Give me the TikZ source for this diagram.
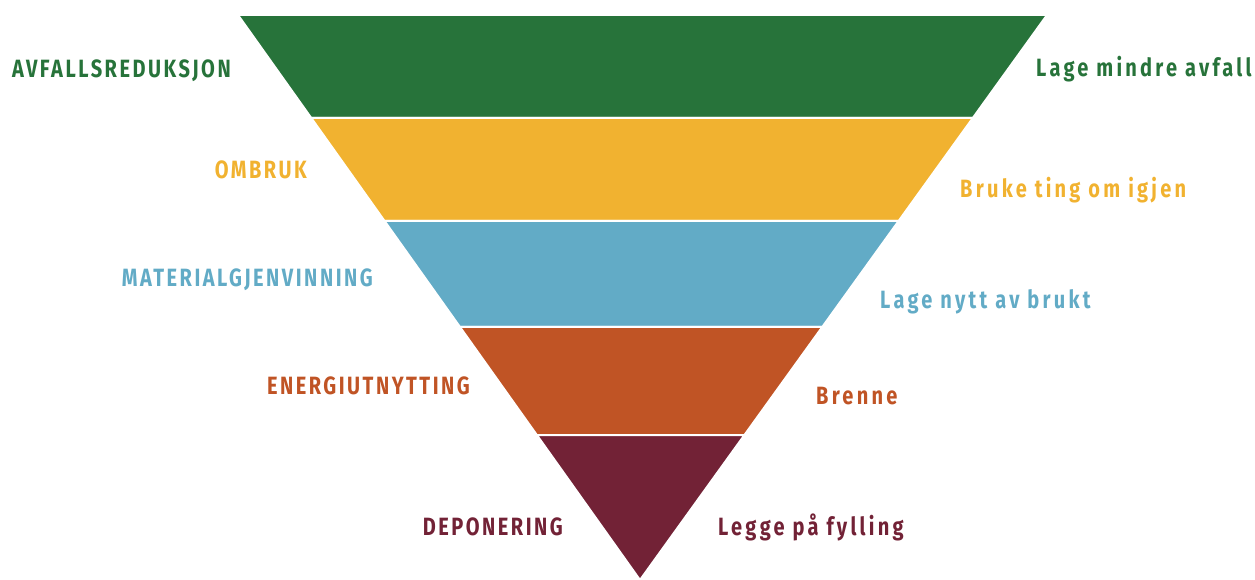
\documentclass[tikz,border=0pt]{standalone}
\usepackage{fontspec}
\usepackage{xcolor}
\usetikzlibrary{calc,positioning}
\newfontfamily\capfont[FakeStretch=0.8,LetterSpace=10]{Fira Sans}
\newfontfamily\txtfont[FakeStretch=0.8,LetterSpace=13]{Fira Sans}

\definecolor{cgreen}{HTML}{27733A}
\definecolor{cyellow}{HTML}{F1B230}
\definecolor{cblue}{HTML}{62ABC6}
\definecolor{corange}{HTML}{C05425}
\definecolor{cmaroon}{HTML}{722236}

\begin{document}
\begin{tikzpicture}[x=1pt,y=-1pt,
    band/.style={draw=white,line width=2pt,line join=miter},
    lbl/.style={inner sep=0pt,anchor=base east,font=\capfont\bfseries\fontsize{25}{30}\selectfont},
    desc/.style={inner sep=0pt,anchor=base west,font=\txtfont\bfseries\fontsize{25}{30}\selectfont}]
    \useasboundingbox (0,0) rectangle (1255,580);

    %corners
    \coordinate (tl) at (238,15);
    \coordinate (tr) at (1047,15);
    \coordinate (apex) at (640,580);

    %band borders
    \coordinate (l1) at ($(tl)!0.1823!(apex)$);
    \coordinate (r1) at ($(tr)!0.1823!(apex)$);
    \coordinate (l2) at ($(tl)!0.3646!(apex)$);
    \coordinate (r2) at ($(tr)!0.3646!(apex)$);
    \coordinate (l3) at ($(tl)!0.5522!(apex)$);
    \coordinate (r3) at ($(tr)!0.5522!(apex)$);
    \coordinate (l4) at ($(tl)!0.7434!(apex)$);
    \coordinate (r4) at ($(tr)!0.7434!(apex)$);

    %bands
    \filldraw[band,fill=cgreen] (tl) -- (tr) -- (r1) -- (l1) -- cycle;
    \filldraw[band,fill=cyellow] (l1) -- (r1) -- (r2) -- (l2) -- cycle;
    \filldraw[band,fill=cblue] (l2) -- (r2) -- (r3) -- (l3) -- cycle;
    \filldraw[band,fill=corange] (l3) -- (r3) -- (r4) -- (l4) -- cycle;
    \filldraw[band,fill=cmaroon] (l4) -- (r4) -- (apex) -- cycle;

    %left labels
    \node[lbl,cgreen] (reduksjon) at (231,78) {AVFALLSREDUKSJON};
    \node[lbl,cyellow] (ombruk) at (307,179) {OMBRUK};
    \node[lbl,cblue] (material) at (373,286) {MATERIALGJENVINNING};
    \node[lbl,corange] (energi) at (470,394) {ENERGIUTNYTTING};
    \node[lbl,cmaroon] (deponering) at (563,535) {DEPONERING};

    %right labels
    \node[desc,cgreen] (mindre) at (1036,77) {Lage mindre avfall};
    \node[desc,cyellow] (igjen) at (960,197) {Bruke ting om igjen};
    \node[desc,cblue] (nytt) at (880,308) {Lage nytt av brukt};
    \node[desc,corange] (brenne) at (816,404) {Brenne};
    \node[desc,cmaroon] (fylling) at (718,535) {Legge på fylling};
\end{tikzpicture}
\end{document}
